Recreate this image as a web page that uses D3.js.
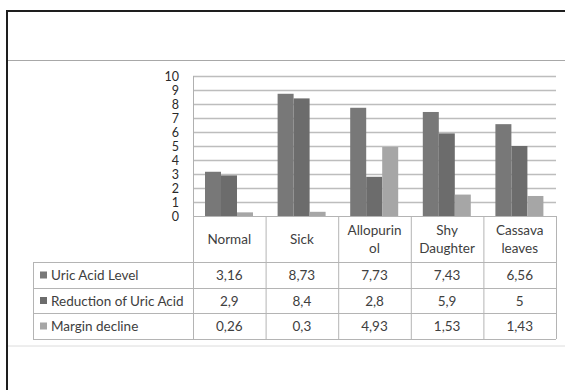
<html>
  <meta charset="utf-8" />
  <script src="https://d3js.org/d3.v7.min.js"></script>
  <body style="margin: 0; background: #fff">
    <svg width="565" height="390" id="chart"></svg>
    <script>
      const categories = ["Normal", "Sick", "Allopurinol", "Shy Daughter", "Cassava leaves"];
      const headerLines = [["Normal"], ["Sick"], ["Allopurin", "ol"], ["Shy", "Daughter"], ["Cassava", "leaves"]];
      const seriesNames = ["Uric Acid Level", "Reduction of Uric Acid", "Margin decline"];
      const uricAcid = [3.16, 8.73, 7.73, 7.43, 6.56];
      const reduction = [2.9, 8.4, 2.8, 5.9, 5];
      const margin = [0.26, 0.3, 4.93, 1.53, 1.43];
      const yTicks = [0, 1, 2, 3, 4, 5, 6, 7, 8, 9, 10];

      const series = [uricAcid, reduction, margin];
      const colors = ["#787878", "#6c6c6c", "#a6a6a6"];
      const font = "Lato, 'Open Sans', sans-serif";
      const textColor = "#404040";
      const fs = 13.5;

      const svg = d3.select("#chart");
      svg.append("rect").attr("width", 565).attr("height", 390).attr("fill", "#fff");

      // frame lines
      svg.append("line").attr("x1", 8).attr("x2", 565).attr("y1", 60.5).attr("y2", 60.5)
        .attr("stroke", "#a8a8a8").attr("stroke-width", 1);
      svg.append("line").attr("x1", 8).attr("x2", 565).attr("y1", 346).attr("y2", 346)
        .attr("stroke", "#dcdcdc").attr("stroke-width", 1);
      svg.append("line").attr("x1", 7).attr("x2", 7).attr("y1", 10).attr("y2", 390)
        .attr("stroke", "#1e1e1e").attr("stroke-width", 2);
      svg.append("line").attr("x1", 6).attr("x2", 565).attr("y1", 11).attr("y2", 11)
        .attr("stroke", "#1e1e1e").attr("stroke-width", 2);

      const x0 = d3.scaleBand().domain(categories).range([193, 556]);
      const x1 = d3.scaleBand().domain(d3.range(series.length)).range([12, 60]);
      const y = d3.scaleLinear().domain([0, 10]).range([216, 76]);

      // gridlines
      svg.append("g").selectAll("line").data(yTicks.filter((t) => t > 0)).join("line")
        .attr("x1", 193).attr("x2", 556)
        .attr("y1", (d) => Math.round(y(d)) + 0.5).attr("y2", (d) => Math.round(y(d)) + 0.5)
        .attr("stroke", "#bdbdbd").attr("stroke-width", 1.5);

      // y labels
      svg.append("g").selectAll("text").data(yTicks).join("text")
        .attr("x", 179).attr("y", (d) => y(d) + 4.5)
        .attr("text-anchor", "end")
        .attr("font-family", font).attr("font-size", 12.5)
        .attr("fill", "#2a2a2a")
        .text((d) => d);

      // bars
      series.forEach((vals, si) => {
        svg.append("g").selectAll("rect").data(vals).join("rect")
          .attr("x", (d, i) => x0(categories[i]) + x1(si))
          .attr("width", x1.bandwidth())
          .attr("y", (d) => y(d))
          .attr("height", (d) => y(0) - y(d))
          .attr("fill", colors[si]);
      });

      // axis line
      svg.append("line").attr("x1", 193.5).attr("x2", 193.5).attr("y1", 76).attr("y2", 216)
        .attr("stroke", "#b0b0b0");

      // data table
      const tableLine = "#b4b4b4";
      const rowTops = [262, 288, 313, 339];
      const table = svg.append("g");

      // header cells
      table.append("line").attr("x1", 193).attr("x2", 556).attr("y1", 216.5).attr("y2", 216.5)
        .attr("stroke", tableLine);
      categories.concat([null]).forEach((c, i) => {
        const xx = (c ? x0(c) : 556) + 0.5;
        table.append("line").attr("x1", xx).attr("x2", xx).attr("y1", 216).attr("y2", 339)
          .attr("stroke", tableLine);
      });
      headerLines.forEach((lines, i) => {
        const cx = x0(categories[i]) + x0.bandwidth() / 2;
        const startY = lines.length === 1 ? 243.5 : 235;
        lines.forEach((ln, j) => {
          table.append("text").attr("x", cx).attr("y", startY + j * 18)
            .attr("text-anchor", "middle")
            .attr("font-family", font).attr("font-size", fs)
            .attr("fill", textColor).text(ln);
        });
      });

      // row lines
      rowTops.forEach((t) => {
        table.append("line").attr("x1", 33).attr("x2", 556).attr("y1", t + 0.5).attr("y2", t + 0.5)
          .attr("stroke", tableLine);
      });
      table.append("line").attr("x1", 33.5).attr("x2", 33.5).attr("y1", 262).attr("y2", 339)
        .attr("stroke", tableLine);

      series.forEach((vals, si) => {
        const cy = (rowTops[si] + rowTops[si + 1]) / 2;
        table.append("rect").attr("x", 40).attr("y", cy - 3.5).attr("width", 7).attr("height", 7)
          .attr("fill", colors[si]);
        table.append("text").attr("x", 51).attr("y", cy + 5)
          .attr("font-family", font).attr("font-size", fs)
          .attr("fill", textColor).text(seriesNames[si]);
        vals.forEach((v, i) => {
          table.append("text").attr("x", x0(categories[i]) + x0.bandwidth() / 2).attr("y", cy + 5)
            .attr("text-anchor", "middle")
            .attr("font-family", font).attr("font-size", fs)
            .attr("fill", textColor).text(String(v).replace(".", ","));
        });
      });
    </script>
  </body>
</html>
